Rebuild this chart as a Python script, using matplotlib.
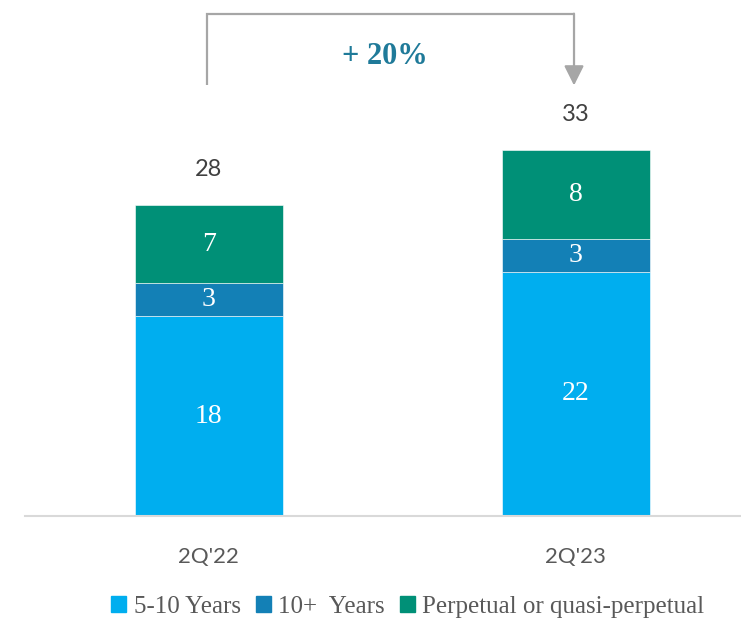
import matplotlib.pyplot as plt
from matplotlib.patches import Patch

# stacked amounts per period
periods = ["2Q'22", "2Q'23"]
years_5_10 = [18, 22]
years_10_plus = [3, 3]
perpetual = [7, 8]
series_names = ["5-10 Years", "10+  Years", "Perpetual or quasi-perpetual"]
growth_label = "+ 20%"

colors = ["#00AEEF", "#1380B6", "#009077"]
serif = "Liberation Serif"
sans = "Lato"

fig = plt.figure(figsize=(7.41, 6.2), dpi=100)
ax = fig.add_axes([25 / 741, 104 / 620, 716 / 741, 516 / 620])

x = list(range(len(periods)))
width = 0.403
bottoms = [0] * len(periods)
for vals, col in zip([years_5_10, years_10_plus, perpetual], colors):
    ax.bar(x, vals, width, bottom=bottoms, color=col, edgecolor="white", linewidth=0.4)
    for xi, b, v in zip(x, bottoms, vals):
        ax.text(xi, b + v / 2, str(v), ha="center", va="center",
                color="white", fontsize=20, family=serif)
    bottoms = [b + v for b, v in zip(bottoms, vals)]

totals = bottoms
for xi, t in zip(x, totals):
    ax.text(xi, t + 3.2, str(t), ha="center", va="center",
            color="#404040", fontsize=17, family=sans)

# bracket with arrow showing the growth between the two periods
top = max(totals)
y_low = top + 5.8
y_high = top + 12.2
ax.plot([x[0] - 0.005, x[0] - 0.005, x[1] - 0.005], [y_low, y_high, y_high],
        color="#A6A6A6", lw=1.6, solid_capstyle="butt", solid_joinstyle="miter")
ax.annotate("", xy=(x[1] - 0.005, y_low), xytext=(x[1] - 0.005, y_high + 0.07),
            arrowprops=dict(arrowstyle="-|>,head_length=1.2,head_width=0.6",
                            color="#A6A6A6", lw=1.6, shrinkA=0, shrinkB=0))
ax.text((x[0] + x[1]) / 2 - 0.02, top + 8.4, growth_label, ha="center", va="center",
        color="#1F7A99", fontsize=22, fontweight="bold", family=serif)

ax.set_xlim(-0.501, 1.45)
ax.set_ylim(0, 46.5)
ax.set_xticks(x)
ax.set_xticklabels(periods, fontsize=16, color="#595959", family=sans)
ax.tick_params(axis="x", length=0, pad=22)
ax.set_yticks([])
for s in ["top", "right", "left"]:
    ax.spines[s].set_visible(False)
ax.spines["bottom"].set_color("#D9D9D9")
ax.spines["bottom"].set_linewidth(1.5)

handles = [Patch(color=c, label=n) for c, n in zip(colors, series_names)]
fig.legend(handles=handles, loc="center", bbox_to_anchor=(408 / 741, 1 - 607 / 620),
           ncol=3, frameon=False, handlelength=0.6, handleheight=0.6,
           handletextpad=0.3, columnspacing=0.6,
           prop={"family": serif, "size": 18}, labelcolor="#595959")

fig.savefig("out.png", dpi=100)
